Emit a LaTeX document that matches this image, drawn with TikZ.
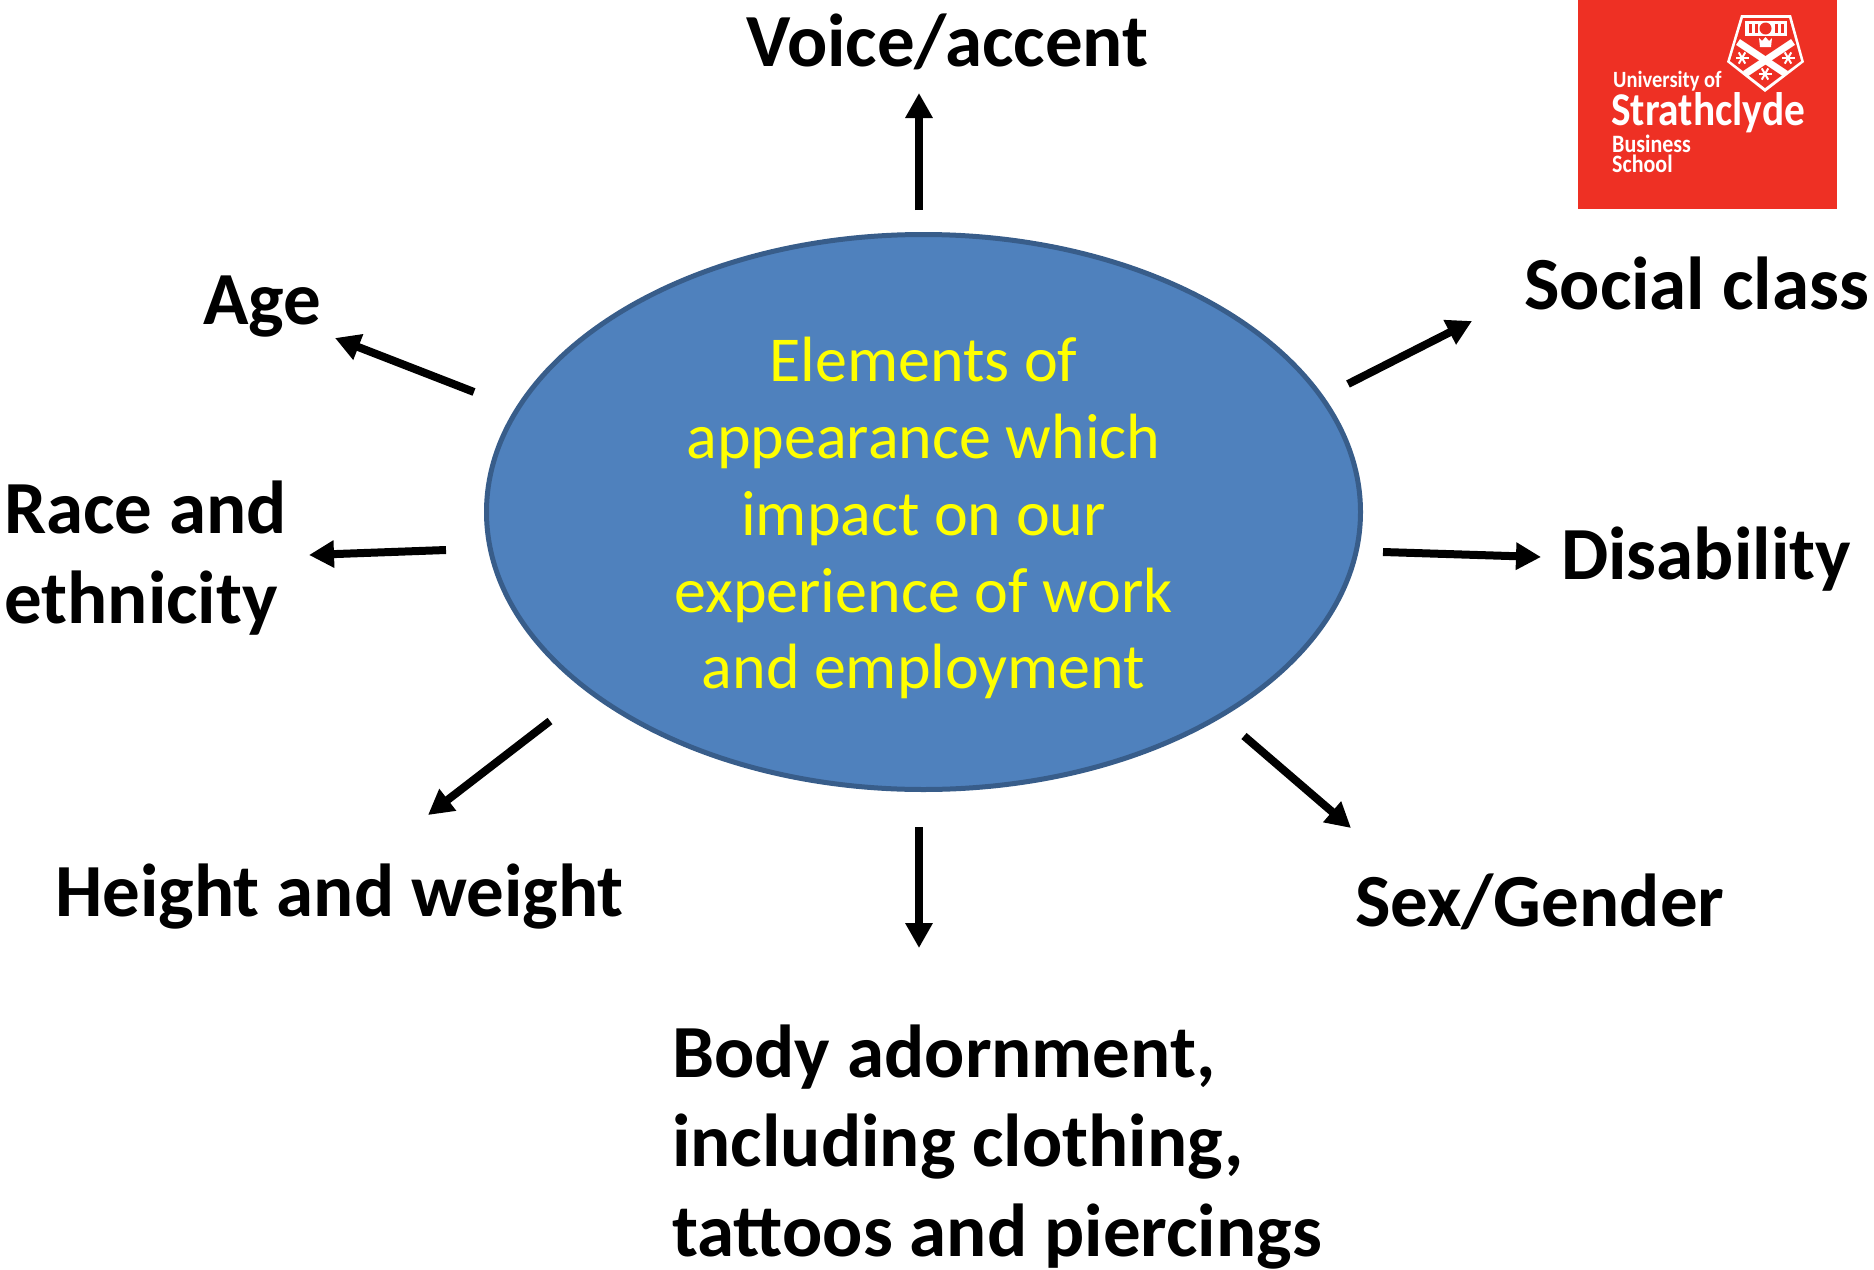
\documentclass[tikz,border=0pt]{standalone}
\usepackage{fontspec}
\setmainfont{Carlito}
\newfontfamily\logofont[FakeStretch=0.88]{Carlito}
\usetikzlibrary{arrows.meta,shapes.geometric}
\definecolor{blobfill}{HTML}{4F81BD}
\definecolor{blobedge}{HTML}{385D8A}
\definecolor{logored}{HTML}{EE3024}
\definecolor{blobtext}{HTML}{FFFF00}
\tikzset{
  lab/.style={inner sep=0pt,anchor=base west,align=left,font=\fontsize{75}{89.5}\selectfont\bfseries,text=black},
  link/.style={line width=8pt,draw=black,-{Triangle[length=25pt,width=26pt]}},
  hub/.style={ellipse,draw=blobedge,line width=5pt,fill=blobfill,minimum width=874pt,minimum height=555pt,inner sep=0pt},
  hubtext/.style={inner sep=0pt,anchor=base,text=blobtext,font=\fontsize{64}{77}\selectfont},
  logotext/.style={inner sep=0pt,anchor=base west,text=white},
}
\begin{document}
\begin{tikzpicture}[x=1pt,y=-1pt]
\useasboundingbox (0,0) rectangle (1874,1269);
\node[hub] (hub) at (923.5,512) {};
\node[hubtext] (t1) at (923.5,381) {Elements of};
\node[hubtext] (t2) at (923.5,458.5) {appearance which};
\node[hubtext] (t3) at (923.5,535.5) {impact on our};
\node[hubtext] (t4) at (923.5,612) {experience of work};
\node[hubtext] (t5) at (923.5,688.5) {and employment};

\node[lab] (voice) at (746,66.5) {Voice/accent};
\node[lab] (age) at (203,324) {Age};
\node[lab] (social) at (1524,309.5) {Social class};
\node[lab] (race) at (4,623) {Race and\\ethnicity};
\node[lab] (disab) at (1561,579.5) {Disability};
\node[lab] (height) at (55,916.5) {Height and weight};
\node[lab] (sex) at (1355,926) {Sex/Gender};
\node[lab] (body) at (672,1256) {Body adornment,\\including clothing,\\tattoos and piercings};

\foreach \n/\ax/\ay/\bx/\by in {v/919/210/919/93,a/474/392/335/338,r/446/550/309/555,h/550/721/428/815,b/919/827/919/948,s/1244/736/1351/828,d/1383/552/1541/557,c/1348/384/1472/321}{
  \coordinate (\n from) at (\ax,\ay);
  \coordinate (\n to) at (\bx,\by);
  \draw[link] (\n from) -- (\n to);
}

% logo
\fill[logored] (1578,0) rectangle (1837,209);
\fill[white] (1741,15) -- (1791,15) -- (1804,62) -- (1765,92) -- (1727,62) -- cycle;
\fill[logored] (1743,18) -- (1789,18) -- (1801,61) -- (1765,88) -- (1730,61) -- cycle;
\fill[white] (1745,21) rectangle (1787,36);
\foreach \x in {1750,1756,1776,1782} \fill[logored] (\x-1.5,24) rectangle (\x+1.5,33);
\fill[logored] (1765.5,28.5) circle (6);
\fill[white] (1759,38) -- (1762,41) -- (1765.5,37) -- (1769,41) -- (1772,38) -- (1771,47) -- (1760,47) -- cycle;
\draw[white,line width=7pt] (1738,42) -- (1786,74);
\draw[white,line width=7pt] (1793,42) -- (1745,74);
\foreach \x/\y in {1742/58,1788/58,1765/74}{
  \foreach \r in {0,60,120}
    \draw[white,line width=2pt] (\x,\y) ++(\r:6.5) -- ++(\r+180:13);
}
\node[logotext,font=\fontsize{23.3}{24}\logofont\bfseries] (l1) at (1613,87) {University of};
\node[logotext,font=\fontsize{47}{47}\logofont\bfseries] (l2) at (1611,125) {Strathclyde};
\node[logotext,font=\fontsize{25}{25}\logofont\bfseries] (l3) at (1612,152) {Business};
\node[logotext,font=\fontsize{25}{25}\logofont\bfseries] (l4) at (1612,172) {School};
\end{tikzpicture}
\end{document}
